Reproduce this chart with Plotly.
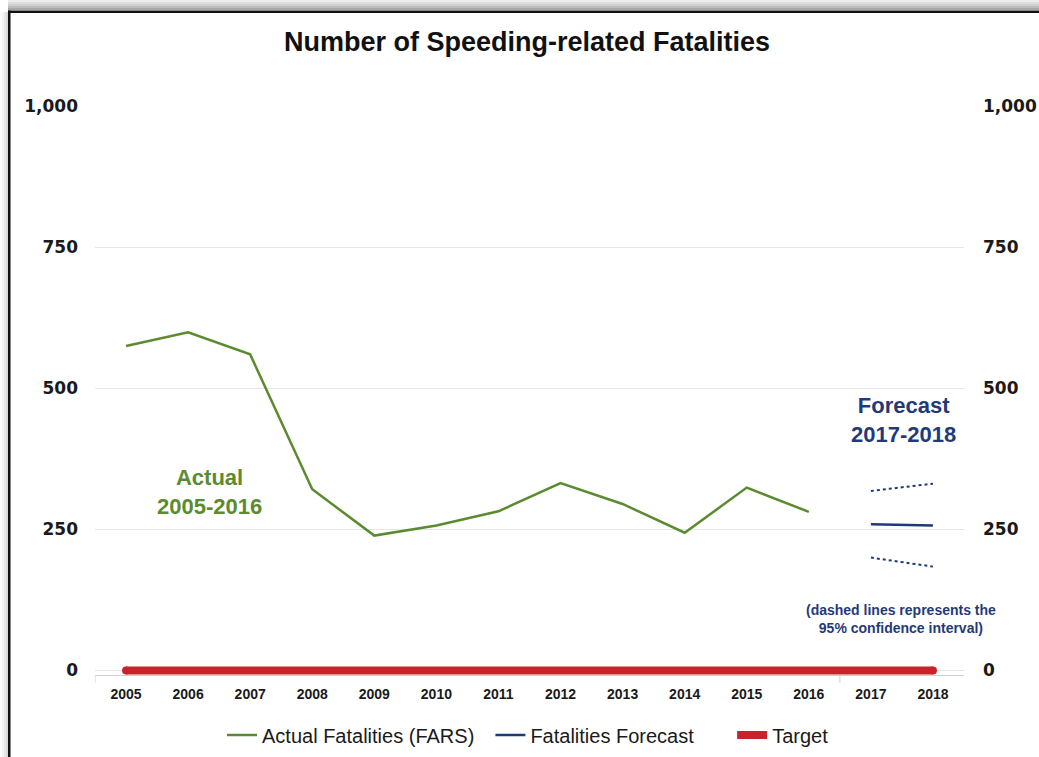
import plotly.graph_objects as go

years = ["2005", "2006", "2007", "2008", "2009", "2010", "2011",
         "2012", "2013", "2014", "2015", "2016", "2017", "2018"]
actual_years = years[:12]
actual_values = [575, 599, 560, 321, 239, 257, 282, 332, 295, 244, 324, 281]
forecast_years = ["2017", "2018"]
forecast_values = [259, 257]
upper_ci = [318, 331]
lower_ci = [200, 184]
target_values = [0] * 14
y_ticks = [0, 250, 500, 750, 1000]
y_ticktext = ["0", "250", "500", "750", "1,000"]

GREEN = "#5b8b2f"
NAVY = "#1f3a7a"
RED = "#c8232a"

W, H = 1039, 757
L, R, T, B = 95, 75, 106, 82
PW, PH = W - L - R, H - T - B


def px2x(px):
    return (px - L) / PW


def py2y(py):
    return (H - B - py) / PH


NB = "\u00a0"

fig = go.Figure()

fig.add_trace(go.Scatter(x=actual_years, y=actual_values, mode="lines",
                         name="Actual Fatalities (FARS)" + NB * 2,
                         line=dict(color=GREEN, width=2.5)))
fig.add_trace(go.Scatter(x=forecast_years, y=forecast_values, mode="lines",
                         name="Fatalities Forecast" + NB * 6,
                         line=dict(color=NAVY, width=2.5)))
fig.add_trace(go.Scatter(x=years, y=target_values, mode="lines",
                         name="Target",
                         line=dict(color=RED, width=8)))
# rounded ends of the target bar
fig.add_trace(go.Scatter(x=[years[0], years[-1]], y=[target_values[0], target_values[-1]],
                         mode="markers", showlegend=False, hoverinfo="skip",
                         marker=dict(color=RED, size=8, line=dict(width=0)),
                         cliponaxis=False))
fig.add_trace(go.Scatter(x=forecast_years, y=upper_ci, mode="lines",
                         showlegend=False,
                         line=dict(color=NAVY, width=2, dash="dot")))
fig.add_trace(go.Scatter(x=forecast_years, y=lower_ci, mode="lines",
                         showlegend=False,
                         line=dict(color=NAVY, width=2, dash="dot")))
# invisible trace to activate right axis
fig.add_trace(go.Scatter(x=years, y=target_values, yaxis="y2", mode="lines",
                         showlegend=False, hoverinfo="skip",
                         line=dict(color="rgba(0,0,0,0)", width=0)))

tickfont = dict(family="DejaVu Sans", size=17, color="#1a1a1a", weight="bold")

fig.update_layout(
    width=W, height=H,
    margin=dict(l=L, r=R, t=T, b=B, autoexpand=False),
    paper_bgcolor="white", plot_bgcolor="white",
    title=dict(text="<b>Number of Speeding-related Fatalities</b>",
               x=527 / W, xanchor="center", xref="container",
               y=1 - 42 / H, yanchor="middle", yref="container",
               font=dict(family="Liberation Sans, Arial", size=27, color="#111")),
    xaxis=dict(type="category", categoryorder="array", categoryarray=years,
               range=[-0.5, 13.5], showgrid=False, showline=True,
               linecolor="#d0d0d0", linewidth=1, ticks="",
               tickfont=dict(family="Liberation Sans, Arial", size=14,
                             color="#1a1a1a", weight="bold"),
               ticklabelstandoff=6),
    yaxis=dict(range=[-8, 1000], tickvals=y_ticks, ticktext=y_ticktext,
               showgrid=True, gridcolor="#e6e6e6", gridwidth=1,
               zeroline=False, showline=False, ticks="",
               tickfont=tickfont, ticklabelstandoff=16),
    yaxis2=dict(range=[-8, 1000], tickvals=y_ticks, ticktext=y_ticktext,
                overlaying="y", side="right", showgrid=False,
                zeroline=False, showline=False, ticks="",
                tickfont=tickfont, ticklabelstandoff=18),
    legend=dict(orientation="h", x=528 / W, xanchor="center", xref="container",
                y=1 - 735 / H, yanchor="middle", yref="container",
                font=dict(family="Liberation Sans, Arial", size=20, color="#1a1a1a"),
                bgcolor="rgba(0,0,0,0)"),
    showlegend=True,
)

ann_font = dict(family="Liberation Sans, Arial", size=22)
fig.add_annotation(x=1.35, y=316, xref="x", yref="y",
                   text="<b>Actual<br>2005-2016</b>", showarrow=False,
                   font=dict(color=GREEN, **ann_font))
fig.add_annotation(x=12.52, y=444, xref="x", yref="y",
                   text="<b>Forecast<br>2017-2018</b>", showarrow=False,
                   font=dict(color=NAVY, **ann_font))
fig.add_annotation(x=12.48, y=92, xref="x", yref="y",
                   text="<b>(dashed lines represents the<br>95% confidence interval)</b>",
                   showarrow=False,
                   font=dict(family="Liberation Sans, Arial", size=14, color=NAVY))

shapes = []
# small axis ticks
for xv in [-0.5, 11.5]:
    shapes.append(dict(type="line", xref="x", yref="paper", x0=xv, x1=xv,
                       y0=0, y1=-8 / PH, line=dict(color="#d0d0d0", width=1)))
# frame: top gray gradient band
band = ["#ececec", "#dedede", "#cfcfcf", "#bdbdbd", "#a8a8a8"]
for i, c in enumerate(band):
    shapes.append(dict(type="rect", xref="paper", yref="paper",
                       x0=px2x(8), x1=px2x(W), y0=py2y(2 * i + 2), y1=py2y(2 * i),
                       fillcolor=c, line=dict(width=0), layer="above"))
# left shadow
shadow = ["#fbfbfb", "#f3f3f3", "#e8e8e8", "#d9d9d9"]
for i, c in enumerate(shadow):
    shapes.append(dict(type="rect", xref="paper", yref="paper",
                       x0=px2x(2 * i), x1=px2x(2 * i + 2), y0=py2y(H), y1=py2y(12),
                       fillcolor=c, line=dict(width=0), layer="above"))
# black border lines
shapes.append(dict(type="rect", xref="paper", yref="paper",
                   x0=px2x(8), x1=px2x(W), y0=py2y(13), y1=py2y(10.5),
                   fillcolor="#111", line=dict(width=0), layer="above"))
shapes.append(dict(type="rect", xref="paper", yref="paper",
                   x0=px2x(8), x1=px2x(10.5), y0=py2y(H), y1=py2y(10.5),
                   fillcolor="#111", line=dict(width=0), layer="above"))
fig.update_layout(shapes=shapes)

fig.write_html("out.html")
